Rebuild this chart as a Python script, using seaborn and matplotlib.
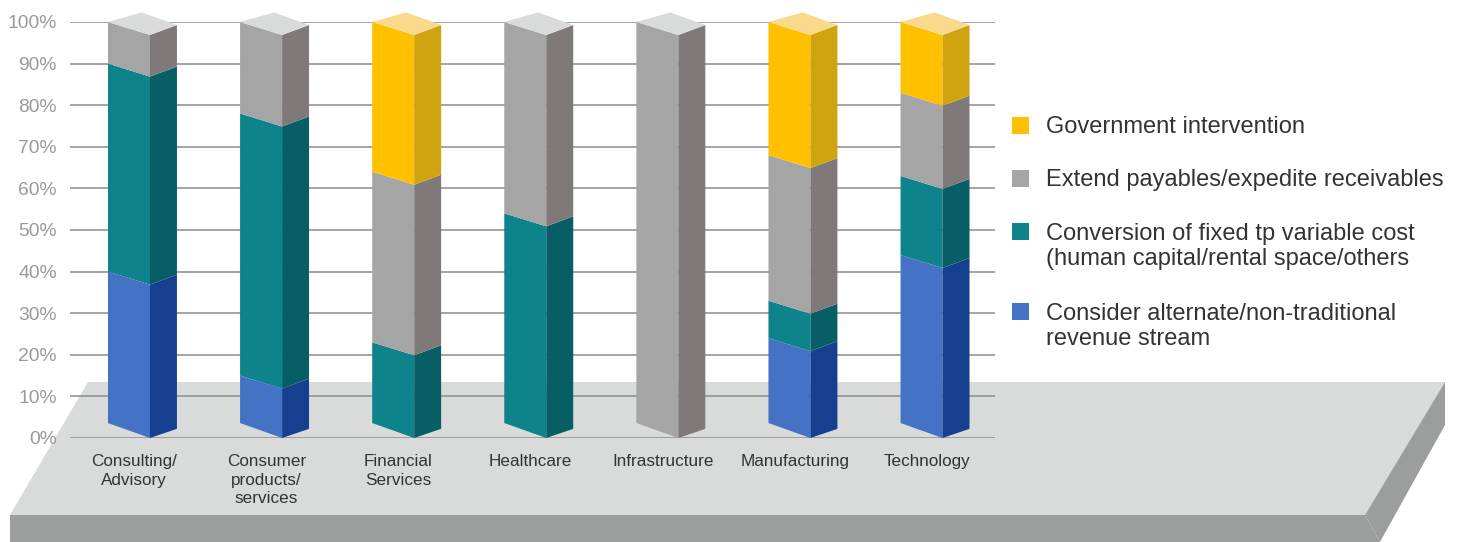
import matplotlib
matplotlib.use("Agg")
import matplotlib.pyplot as plt
import numpy as np
import seaborn as sns
from matplotlib.patches import Polygon, Rectangle

# Survey shares per industry (percent of respondents)
categories = ["Consulting/\nAdvisory", "Consumer\nproducts/\nservices", "Financial\nServices",
              "Healthcare", "Infrastructure", "Manufacturing", "Technology"]
alternate_revenue = [40, 15, 0, 0, 0, 24, 44]
variable_cost = [50, 63, 23, 54, 0, 9, 19]
payables_receivables = [10, 22, 41, 46, 100, 35, 20]
government = [0, 0, 36, 0, 0, 32, 17]
y_ticks = [0, 10, 20, 30, 40, 50, 60, 70, 80, 90, 100]

series_names = ["Consider alternate/non-traditional\nrevenue stream",
                "Conversion of fixed tp variable cost\n(human capital/rental space/others",
                "Extend payables/expedite receivables",
                "Government intervention"]
front_colors = ["#4472C4", "#0E838C", "#A5A5A5", "#FFC000"]
side_colors = ["#15408F", "#085E65", "#7F7A79", "#D0A311"]
cap_colors = {"#A5A5A5": "#D9DBDA", "#FFC000": "#F9D98A"}

W, H = 1461, 542
sns.set_theme(style="white")
plt.rcParams["font.family"] = ["Liberation Sans", "DejaVu Sans"]
fig = plt.figure(figsize=(W / 100, H / 100), dpi=100, facecolor="white")

# Full-figure layer in pixel units for the platform and the key
stage = fig.add_axes([0, 0, 1, 1], zorder=0)
stage.set_xlim(0, W)
stage.set_ylim(H, 0)
stage.axis("off")
stage.add_patch(Polygon([(88, 382), (1445, 382), (1365, 515), (10, 515)], fc="#D9DBDA", ec="none"))
stage.add_patch(Polygon([(10, 515), (1365, 515), (1380, 542), (10, 542)], fc="#9C9E9D", ec="none"))
stage.add_patch(Polygon([(1365, 515), (1445, 382), (1445, 425), (1380, 542)], fc="#9C9E9D", ec="none"))

# Chart axes: 0-100 % between y=438 px and y=22 px, gridlines from x=70 px to x=995 px
ax = fig.add_axes([70 / W, 1 - 438 / H, 925 / W, 416 / H], zorder=1)
ax.patch.set_alpha(0)

totals = np.zeros(len(categories))
all_series = [alternate_revenue, variable_cost, payables_receivables, government]
front_width = 0.318
for values, front, side in zip(all_series, front_colors, side_colors):
    before = len(ax.patches)
    sns.barplot(x=categories, y=values, bottom=totals, color=front, saturation=1,
                width=front_width, errorbar=None, order=categories, ax=ax)
    totals = totals + np.array(values, dtype=float)
    for bar in ax.patches[before:]:
        bar.set_visible(False)

ax.set_xlim(-0.4466, 6.556)
ax.set_ylim(0, 100)

# Vertical skew of each face, in percent units, and the floor line of the prism
side_width = 0.204
drop_mid, drop_right = 3.125, 0.72
floor_left, floor_mid, floor_right = 3.6, 0.0, 2.2
apex_dx, apex_rise = 0.257, 2.3


def edge(level):
    """Heights of a segment boundary at the left, middle and right corners."""
    return (max(level, floor_left), max(level - drop_mid, floor_mid), max(level - drop_right, floor_right))


source_bars = list(ax.patches)
for bar, color_index in zip(source_bars, np.repeat(np.arange(4), len(categories))):
    if bar.get_height() <= 0:
        continue
    x0 = bar.get_x()
    x1 = x0 + bar.get_width()
    x2 = x1 + side_width
    lo, hi = bar.get_y(), bar.get_y() + bar.get_height()
    lo_e, hi_e = edge(lo), edge(hi)
    ax.add_patch(Polygon([(x0, lo_e[0]), (x1, lo_e[1]), (x1, hi_e[1]), (x0, hi_e[0])],
                         fc=front_colors[color_index], ec="none", zorder=3))
    ax.add_patch(Polygon([(x1, lo_e[1]), (x2, lo_e[2]), (x2, hi_e[2]), (x1, hi_e[1])],
                         fc=side_colors[color_index], ec="none", zorder=3))
    if hi >= 100:
        ax.add_patch(Polygon([(x0, hi_e[0]), (x0 + apex_dx, hi + apex_rise), (x2, hi_e[2]), (x1, hi_e[1])],
                             fc=cap_colors[front_colors[color_index]], ec="none", zorder=3, clip_on=False))

ax.set_yticks(y_ticks)
ax.set_yticklabels([f"{t}%" for t in y_ticks])
ax.set_xticks(np.arange(len(categories)) + 0.04)
ax.set_xticklabels(categories, linespacing=1.3)
ax.set_xlabel("")
ax.set_ylabel("")
ax.tick_params(axis="y", length=0, pad=9.5, labelsize=13.9, labelcolor="#9A9A9A")
ax.tick_params(axis="x", length=0, pad=11.5, labelsize=12.3, labelcolor="#333333")
ax.yaxis.grid(True, color="#8C8C8C", lw=1.1, zorder=1)
ax.xaxis.grid(False)
ax.set_axisbelow(True)
for spine in ax.spines.values():
    spine.set_visible(False)

# Key, newest series first; multi-line labels are anchored on their last line
key_rows = [125, 178, 231, 311]
line_step = 26
for row, name, color in zip(key_rows, reversed(series_names), reversed(front_colors)):
    stage.add_patch(Rectangle((1012, row - 8.5), 17, 17, fc=color, ec="none"))
    stage.text(1046, row + 8 + name.count("\n") * line_step, name, fontsize=17, color="#333333",
               va="baseline", ha="left", linespacing=1.17)

fig.savefig("out.png", dpi=100)
